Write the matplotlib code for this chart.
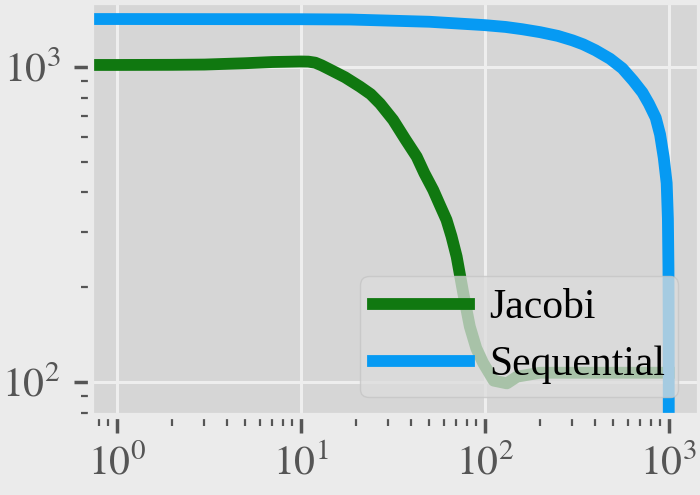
import matplotlib
matplotlib.use("Agg")
import numpy as np
import matplotlib.pyplot as plt
from matplotlib.ticker import LogLocator, NullFormatter, FuncFormatter

plt.rcParams['font.family'] = ['Liberation Serif', 'DejaVu Serif']
plt.rcParams['mathtext.fontset'] = 'stix'

# Data
jacobi_x = [0.5, 1, 2, 3, 5, 7, 10, 11, 12, 13, 14.4, 17.4, 21, 24, 27, 31.8, 37,
            42.7, 47, 52.5, 57, 62, 66, 70.4, 76.4, 83, 90, 98, 112, 132, 150,
            200, 1000]
jacobi_y = [1015, 1015, 1016, 1018, 1028, 1037, 1041, 1040, 1032, 1012, 982, 928,
            866, 820, 765, 679, 590, 519, 460, 407, 365, 327, 290, 250, 192, 150,
            128, 115, 101, 99, 104, 107, 107]
seq_x = [0.5, 1, 10, 18.5, 50, 100, 130, 160, 200, 250, 300, 343, 400, 480, 560,
         641, 720, 780, 850, 898, 940, 975, 990, 997, 1000, 1001]
seq_y = [1420, 1420, 1418, 1415, 1392, 1358, 1340, 1318, 1290, 1255, 1215, 1180,
         1130, 1062, 990, 905, 830, 765, 690, 610, 515, 428, 330, 230, 150, 60]
labels = ["Jacobi", "Sequential"]
colors = ["#107810", "#069af3"]

fig = plt.figure(figsize=(7, 4.95), dpi=100, facecolor='#ebebeb')
ax = fig.add_axes([91/700, (495-416)/495, 609/700, 414/495])
ax.set_facecolor('#d6d6d6')

ax.plot(jacobi_x, jacobi_y, color=colors[0], lw=8.5, label=labels[0])
ax.plot(seq_x, seq_y, color=colors[1], lw=8.5, label=labels[1])

ax.set_xscale('log')
ax.set_yscale('log')
ax.set_xlim(10**((91-116.7)/184), 10**((700-116.7)/184))
ax.set_ylim(10**(2 - (416-382)/315), 10**(3 + (67-2)/315))


def fmt(v, pos):
    e = int(round(np.log10(v)))
    return r'$10^{%d}$' % e


for axis in (ax.xaxis, ax.yaxis):
    axis.set_major_locator(LogLocator(base=10, numticks=10))
    axis.set_minor_locator(LogLocator(base=10, subs=range(2, 10), numticks=20))
    axis.set_major_formatter(FuncFormatter(fmt))
    axis.set_minor_formatter(NullFormatter())

ax.grid(True, which='major', color='#eeeeee', lw=2.2)
ax.set_axisbelow(True)

ax.tick_params(which='major', direction='out', length=12, width=2.5, color='#555555',
               labelsize=30, labelcolor='#555555')
ax.tick_params(which='minor', direction='out', length=7, width=1.6, color='#555555')
ax.tick_params(axis='x', which='major', pad=9)
ax.tick_params(axis='y', which='major', pad=10)

for s in ax.spines.values():
    s.set_visible(True)
    s.set_color('#ebebeb')
    s.set_linewidth(4.5)

leg = ax.legend(loc='lower right', bbox_to_anchor=(0.964, 0.046), borderaxespad=0,
                fontsize=30, framealpha=0.75, facecolor='#dcdcdc', edgecolor='#c4c4c4',
                handlelength=2.3, handletextpad=0.5, labelspacing=0.45, borderpad=0.3,
                fancybox=True)
for t in leg.get_texts():
    t.set_color('black')

fig.savefig('out.png', dpi=100, facecolor=fig.get_facecolor())
